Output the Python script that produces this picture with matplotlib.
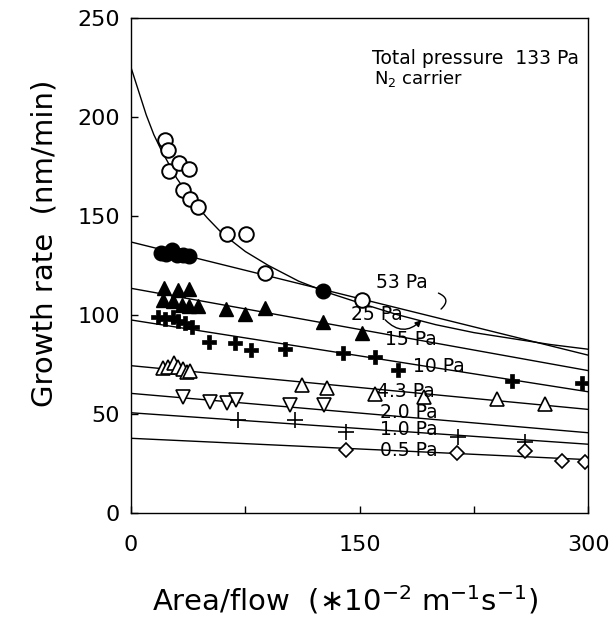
import matplotlib
matplotlib.use("Agg")
import matplotlib.pyplot as plt
from matplotlib.patches import FancyArrowPatch

plt.rcParams['font.family'] = ['DejaVu Sans']
plt.rcParams['mathtext.default'] = 'regular'

# ---- data (x: area/flow, y: growth rate) ----
x53 = [22.3, 24.1, 25.1, 31.5, 37.9, 34.3, 38.7, 44.2, 62.8, 75.5, 87.9, 151.4]
y53 = [188.2, 183.3, 172.7, 176.6, 173.7, 163.1, 158.5, 154.3, 141.0, 141.0, 121.0, 107.5]

x25 = [20, 23, 27, 30, 34, 38, 126.2]
y25 = [131, 130.5, 133, 130, 130, 129.5, 112.2]

x15 = [21.5, 31, 38.3, 21.2, 27.8, 33.3, 38.3, 44.2, 62.3, 74.8, 87.9, 125.8, 151.4]
y15 = [113.5, 112.5, 113, 107.5, 107, 105, 104.5, 104.5, 103, 100.5, 103.3, 96.5, 91]

x10 = [17.9, 22.3, 27.8, 31, 35.4, 39.8, 51.4, 68.2, 78.5, 101, 139.3, 160.1, 175.4, 249.8, 295.7]
y10 = [98.7, 97.7, 98.7, 97, 96, 94, 86.4, 85.9, 82.2, 82.6, 80.5, 78.8, 72.1, 66.7, 65.4]

x43 = [21.2, 24.5, 28.2, 31, 34.3, 36.5, 38.7, 112, 128.4, 160.1, 192.5, 240, 271.7]
y43 = [73, 73.8, 75.5, 73.5, 72.5, 71.3, 71.8, 64.5, 62.9, 60, 58.6, 57.3, 54.9]

x20 = [34.3, 51.8, 63.2, 68.9, 104.3, 126.4]
y20 = [58.6, 56.1, 55.6, 57, 54.2, 54.2]

x10b = [70.4, 107.5, 141, 214.8, 258.5]
y10b = [47, 47, 41, 38.1, 35.9]

x05 = [141.1, 214.1, 258.5, 282.6, 297.9]
y05 = [31.7, 30.3, 31.3, 26.1, 25.8]

# fitted 53 Pa curve
curve_x = [0, 5, 10, 15, 20, 25, 30, 40, 50, 60, 75, 90, 110, 130, 150, 175, 200, 225, 250, 275, 300]
curve_y = [225, 213, 201, 191, 183, 176, 169, 158, 149, 141, 132, 125, 117, 111, 106, 100, 95, 91, 88, 85, 82.6]

# straight fit lines: value at x=0 and x=300
line_labels = ['25 Pa', '15 Pa', '10 Pa', '4.3 Pa', '2.0 Pa', '1.0 Pa', '0.5 Pa']
line_start = [136.8, 113.4, 97.4, 74.3, 60.3, 50.5, 37.6]
line_end = [79.6, 71.8, 61.1, 52.2, 40.4, 34.6, 26.8]
line_x = [0, 300]

fig = plt.figure(figsize=(6.16, 6.25), dpi=100)
ax = fig.add_axes([131/616, 1-512.7/625, (588.3-131)/616, (512.7-18)/625])

lw = 1.0
ax.plot(curve_x, curve_y, color='black', lw=lw)
for s, e in zip(line_start, line_end):
    ax.plot(line_x, [s, e], color='black', lw=lw)

ms = 10.5
ax.plot(x53, y53, 'o', mfc='white', mec='black', mew=1.4, ms=ms, ls='none')
ax.plot(x25, y25, 'o', mfc='black', mec='black', ms=ms, ls='none')
ax.plot(x15, y15, '^', mfc='black', mec='black', ms=ms, ls='none')
ax.plot(x10, y10, 'P', mfc='black', mec='black', mew=0.5, ms=ms, ls='none')
ax.plot(x43, y43, '^', mfc='white', mec='black', mew=1.2, ms=ms, ls='none')
ax.plot(x20, y20, 'v', mfc='white', mec='black', mew=1.2, ms=ms, ls='none')
ax.plot(x10b, y10b, '+', color='black', mew=1.2, ms=ms + 1, ls='none')
ax.plot(x05, y05, 'D', mfc='white', mec='black', mew=1.2, ms=7.5, ls='none')

ax.set_xlim(0, 300)
ax.set_ylim(0, 250)
ax.set_xticks([0, 75, 150, 225, 300])
ax.set_xticklabels(['0', '', '150', '', '300'])
ax.set_yticks([0, 50, 100, 150, 200, 250])
ax.tick_params(direction='in', length=5, width=1, labelsize=16, pad=8)
ax.tick_params(axis='x', pad=16)
for sp in ax.spines.values():
    sp.set_linewidth(1.0)

fs = 13.5
ax.text(158, 229.5, 'Total pressure  133 Pa', fontsize=fs, va='center', ha='left')
ax.text(159.5, 219.5, 'N$_2$ carrier', fontsize=13, va='center', ha='left')

ax.text(161, 116.5, '53 Pa', fontsize=fs, va='center', ha='left')
ax.text(144.5, 100, '25 Pa', fontsize=fs, va='center', ha='left')
ax.text(166.5, 87.6, '15 Pa', fontsize=fs, va='center', ha='left')
ax.text(185, 73.8, '10 Pa', fontsize=fs, va='center', ha='left')
ax.text(161.5, 61.2, '4.3 Pa', fontsize=fs, va='center', ha='left')
ax.text(163.4, 50.5, '2.0 Pa', fontsize=fs, va='center', ha='left')
ax.text(163.4, 41.8, '1.0 Pa', fontsize=fs, va='center', ha='left')
ax.text(163.4, 31.3, '0.5 Pa', fontsize=fs, va='center', ha='left')

# bracket arrows
a1 = FancyArrowPatch((200.0, 111.5), (202.0, 102.0), connectionstyle='arc3,rad=-0.9',
                     arrowstyle='-', color='black', lw=1.0)
ax.add_patch(a1)
a2 = FancyArrowPatch((165.5, 98.5), (191.8, 98.3), connectionstyle='arc3,rad=0.55',
                     arrowstyle='-|>', mutation_scale=9, color='black', lw=1.0)
ax.add_patch(a2)

fig.text(45/616, 1-243/625, 'Growth rate  (nm/min)', rotation=90, fontsize=21,
         ha='center', va='center')
fig.text(345/616, 1-600/625, 'Area/flow  ($\\ast$10$^{-2}$ m$^{-1}$s$^{-1}$)', fontsize=21,
         ha='center', va='center')

fig.savefig('out.png', dpi=100)
